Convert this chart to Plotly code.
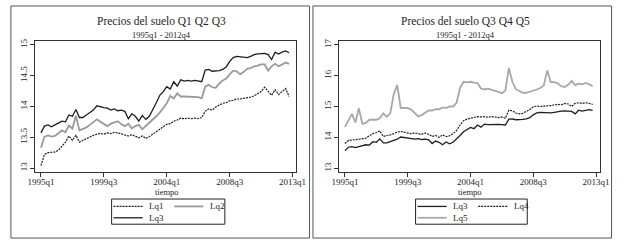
import plotly.graph_objects as go

# ---------------- data ----------------
quarters = list(range(72))  # 1995q1 .. 2012q4
tick_vals = [0, 18, 36, 54, 72]
tick_text = ["1995q1", "1999q3", "2004q1", "2008q3", "2013q1"]

lq1 = [13.04, 13.22, 13.25, 13.25, 13.26, 13.29, 13.35, 13.42, 13.52, 13.45,
       13.53, 13.42, 13.45, 13.48, 13.50, 13.53, 13.55, 13.56, 13.55, 13.57,
       13.56, 13.58, 13.57, 13.55, 13.53, 13.52, 13.54, 13.51, 13.49, 13.52,
       13.48, 13.51, 13.55, 13.60, 13.63, 13.67, 13.71, 13.72, 13.76, 13.78,
       13.81, 13.80, 13.81, 13.80, 13.81, 13.80, 13.82, 13.92, 13.96, 13.94,
       13.99, 14.02, 14.05, 14.06, 14.09, 14.10, 14.12, 14.12, 14.13, 14.13,
       14.15, 14.17, 14.21, 14.24, 14.31, 14.24, 14.18, 14.27, 14.19, 14.24,
       14.29, 14.16]

lq2 = [13.33, 13.51, 13.53, 13.51, 13.52, 13.56, 13.61, 13.58, 13.69, 13.64,
       13.85, 13.61, 13.63, 13.66, 13.70, 13.74, 13.79, 13.75, 13.72, 13.68,
       13.72, 13.74, 13.76, 13.71, 13.68, 13.72, 13.64, 13.68, 13.70, 13.63,
       13.68, 13.73, 13.78, 13.84, 13.90, 13.97, 14.05, 14.17, 14.13, 14.21,
       14.16, 14.16, 14.16, 14.15, 14.16, 14.15, 14.13, 14.32, 14.35, 14.31,
       14.30, 14.37, 14.42, 14.45, 14.52, 14.58, 14.57, 14.52, 14.56, 14.61,
       14.62, 14.65, 14.66, 14.68, 14.68, 14.58, 14.65, 14.69, 14.65, 14.68,
       14.71, 14.69]

lq3 = [13.57, 13.68, 13.70, 13.67, 13.70, 13.73, 13.76, 13.75, 13.86, 13.84,
       13.95, 13.82, 13.82, 13.86, 13.90, 13.94, 14.01, 13.99, 13.98, 13.97,
       13.94, 13.96, 13.93, 13.94, 13.92, 13.80, 13.88, 13.84, 13.76, 13.85,
       13.79, 13.84, 13.94, 14.06, 14.18, 14.24, 14.32, 14.28, 14.40, 14.33,
       14.43, 14.41, 14.42, 14.41, 14.42, 14.41, 14.40, 14.59, 14.60, 14.57,
       14.57, 14.58, 14.60, 14.64, 14.73, 14.79, 14.81, 14.80, 14.79, 14.79,
       14.81, 14.84, 14.85, 14.86, 14.86, 14.84, 14.76, 14.88, 14.85, 14.88,
       14.90, 14.87]

lq4 = [13.80, 13.90, 13.91, 13.92, 13.94, 13.95, 13.97, 14.05, 14.12, 14.15,
       14.21, 14.03, 14.05, 14.08, 14.12, 14.17, 14.19, 14.16, 14.14, 14.12,
       14.14, 14.13, 14.10, 14.14, 14.10, 14.03, 14.06, 14.00, 14.08, 14.02,
       14.05, 14.12, 14.22, 14.40, 14.54, 14.59, 14.62, 14.65, 14.67, 14.66,
       14.67, 14.65, 14.67, 14.66, 14.64, 14.66, 14.62, 14.88, 14.86, 14.79,
       14.76, 14.78, 14.83, 14.90, 14.99, 15.01, 15.00, 15.01, 15.00, 15.03,
       15.05, 15.07, 15.05, 15.10, 15.08, 15.00, 15.10, 15.12, 15.10, 15.12,
       15.10, 15.07]

lq5 = [14.33, 14.57, 14.76, 14.48, 14.94, 14.44, 14.47, 14.57, 14.58, 14.57,
       14.62, 14.78, 14.67, 14.78, 15.40, 15.70, 14.95, 14.95, 14.95, 14.90,
       14.78, 14.68, 14.72, 14.80, 14.87, 14.87, 14.91, 14.91, 14.97, 14.95,
       15.00, 15.00, 15.12, 15.60, 15.80, 15.78, 15.80, 15.77, 15.76, 15.58,
       15.55, 15.58, 15.55, 15.52, 15.47, 15.43, 15.52, 16.25, 15.80, 15.56,
       15.50, 15.44, 15.44, 15.47, 15.50, 15.55, 15.60, 15.68, 16.17, 15.79,
       15.79, 15.75, 15.66, 15.63, 15.70, 15.83, 15.69, 15.74, 15.72, 15.76,
       15.72, 15.66]

left_yticks = [13, 13.5, 14, 14.5, 15]
right_yticks = [13, 14, 15, 16, 17]

titles = ["Precios del suelo Q1 Q2 Q3", "Precios del suelo Q3 Q4 Q5"]
subtitle = "1995q1 - 2012q4"
xtitle = "tiempo"

# ---------------- styles ----------------
W, H = 624, 241
FONT = "Liberation Serif, DejaVu Serif, serif"
TXT = "#1e1e1e"
DARK = "#1e1e1e"
GRAY2 = "#9a9a9a"
GRAY5 = "#a8a8a8"

style = {
    "Lq1": dict(color=DARK, width=1.2, dash="2px,1px"),
    "Lq2": dict(color=GRAY2, width=1.8),
    "Lq3": dict(color=DARK, width=1.3),
    "Lq4": dict(color=DARK, width=1.2, dash="2px,1px"),
    "Lq5": dict(color=GRAY5, width=1.8),
}


def px(x):
    return x / W


def py(y):
    return 1 - y / H


fig = go.Figure()

for name, vals in [("Lq1", lq1), ("Lq2", lq2), ("Lq3", lq3)]:
    fig.add_trace(go.Scatter(x=quarters, y=vals, mode="lines", name=name,
                             line=style[name], xaxis="x", yaxis="y",
                             showlegend=False))
for name, vals in [("Lq3", lq3), ("Lq4", lq4), ("Lq5", lq5)]:
    fig.add_trace(go.Scatter(x=quarters, y=vals, mode="lines", name=name,
                             line=style[name], xaxis="x2", yaxis="y2",
                             showlegend=False))

axis_common = dict(showline=True, mirror=True, linecolor="#333333", linewidth=1,
                   ticks="outside", ticklen=4, tickcolor="#333333", tickwidth=1,
                   showgrid=False, zeroline=False,
                   tickfont=dict(family=FONT, size=9, color=TXT))

xr = [-1.65, 73.1]
fig.update_layout(
    width=W, height=H,
    margin=dict(l=0, r=0, t=0, b=0),
    paper_bgcolor="white", plot_bgcolor="white",
    xaxis=dict(domain=[px(28), px(297)], range=xr, anchor="y",
               tickvals=tick_vals, ticktext=tick_text, ticklabelstandoff=-3,
               **axis_common),
    yaxis=dict(domain=[py(171.5), py(38.5)], range=[12.93, 15.06], anchor="x",
               tickvals=left_yticks, ticktext=["13", "13.5", "14", "14.5", "15"],
               tickangle=-90, **axis_common),
    xaxis2=dict(domain=[px(341), px(609.5)], range=xr, anchor="y2",
                tickvals=tick_vals, ticktext=tick_text, ticklabelstandoff=-3,
                **axis_common),
    yaxis2=dict(domain=[py(171.5), py(38.5)], range=[12.866, 17.12], anchor="x2",
                tickvals=right_yticks, ticktext=[str(v) for v in right_yticks],
                tickangle=-90, **axis_common),
    showlegend=False,
)

shapes = []
annotations = []

# panel borders
for x0, x1 in [(3, 310.5), (314, 621.5)]:
    shapes.append(dict(type="rect", xref="paper", yref="paper",
                       x0=px(x0), x1=px(x1), y0=py(238), y1=py(3),
                       line=dict(color="#555555", width=1)))

# titles
for cx, t in [(158, titles[0]), (471, titles[1])]:
    annotations.append(dict(text=t, x=px(cx), y=py(18), xref="paper", yref="paper",
                            xanchor="center", yanchor="middle", showarrow=False,
                            font=dict(family=FONT, size=11.5, color=TXT)))
    annotations.append(dict(text=subtitle, x=px(cx), y=py(32.5), xref="paper", yref="paper",
                            xanchor="center", yanchor="middle", showarrow=False,
                            font=dict(family=FONT, size=8.5, color=TXT)))

# x-axis titles
for cx in [163.5, 476]:
    annotations.append(dict(text=xtitle, x=px(cx), y=py(191.5), xref="paper", yref="paper",
                            xanchor="center", yanchor="middle", showarrow=False,
                            font=dict(family=FONT, size=8.5, color=TXT)))

# legends (drawn boxes with sample lines)
legends = [
    (106.7, 223.3, [("Lq1", 0, 0), ("Lq2", 1, 0), ("Lq3", 0, 1)]),
    (419.7, 534.7, [("Lq3", 0, 0), ("Lq4", 1, 0), ("Lq5", 0, 1)]),
]
for bx0, bx1, entries in legends:
    shapes.append(dict(type="rect", xref="paper", yref="paper",
                       x0=px(bx0), x1=px(bx1), y0=py(224), y1=py(198.5),
                       line=dict(color="#222222", width=1)))
    for name, col, row in entries:
        lx0 = bx0 + 2 + col * 62.5
        lx1 = lx0 + 30
        ly = 206 + row * 11.5
        st = style[name]
        shapes.append(dict(type="line", xref="paper", yref="paper",
                           x0=px(lx0), x1=px(lx1), y0=py(ly), y1=py(ly),
                           line=dict(color=st["color"], width=st["width"],
                                     dash=st.get("dash", "solid"))))
        annotations.append(dict(text=name, x=px(lx1 + 4.5), y=py(ly), xref="paper",
                                yref="paper", xanchor="left", yanchor="middle",
                                showarrow=False,
                                font=dict(family=FONT, size=9, color=TXT)))

fig.update_layout(shapes=shapes, annotations=annotations)

fig.write_html("out.html", config={"displayModeBar": False},
               post_script="document.body.style.margin='0px';document.body.style.overflow='hidden';")
